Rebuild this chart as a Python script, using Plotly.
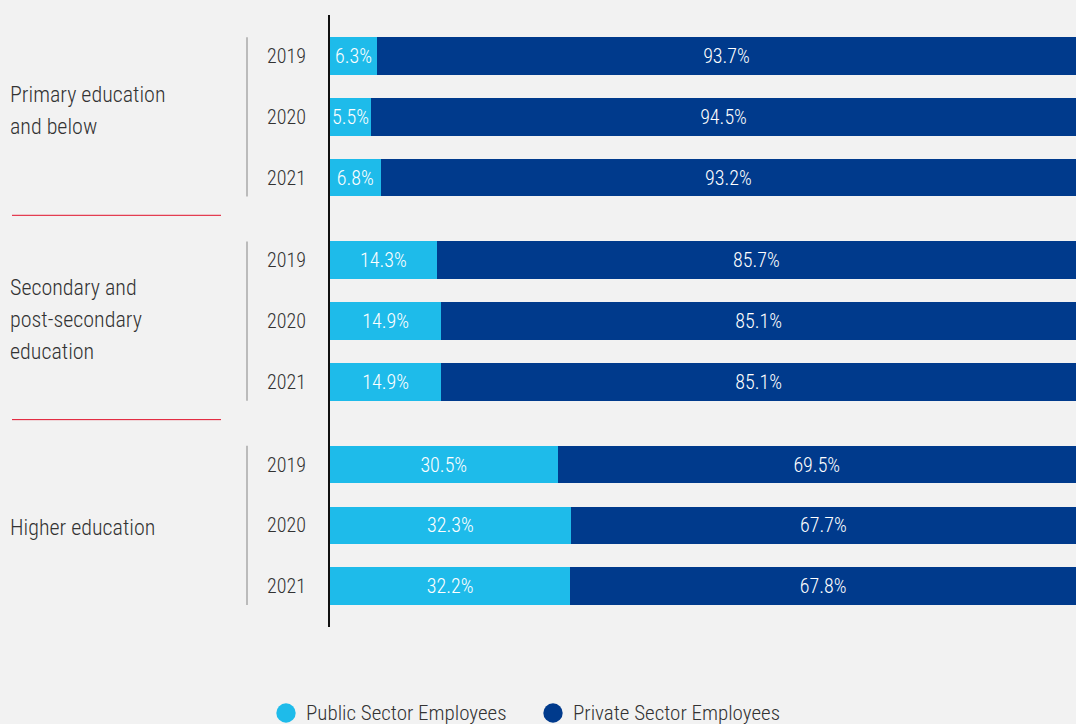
import plotly.graph_objects as go

groups = [["Primary education", "and below"], ["Secondary and", "post-secondary", "education"], ["Higher education"]]
years = ["2019", "2020", "2021"]
public = [6.3, 5.5, 6.8, 14.3, 14.9, 14.9, 30.5, 32.3, 32.2]
private = [93.7, 94.5, 93.2, 85.7, 85.1, 85.1, 69.5, 67.7, 67.8]
series_names = ["Public Sector Employees", "Private Sector Employees"]
colors = ["#1EBBEA", "#003A8C"]

FONT = "Roboto Condensed, Liberation Sans Narrow, Roboto, sans-serif"
WT = 300
GAP = 0.36
L, W = 330, 746  # plot left px, plot width px
T, H = 15, 612   # plot top px, plot height px
UNIT = 60.8      # px per y unit

pos = []
for g in range(len(groups)):
    for j in range(len(years)):
        pos.append(g * (len(years) + GAP) + j)

def px(x):
    return (x - L) / W

def py(y):
    return (T + H - y) / H

fig = go.Figure()
for name, vals, col in zip(series_names, [public, private], colors):
    fig.add_trace(go.Bar(
        y=pos, x=vals, orientation="h", marker=dict(color=col, line=dict(width=0)),
        width=0.62, text=[f"{v:.1f}%" for v in vals], textposition="inside",
        insidetextanchor="middle", textfont=dict(color="white", size=20, family=FONT, weight=WT),
        showlegend=False, hoverinfo="skip", name=name))

annotations = []
shapes = []
for i, p in enumerate(pos):
    annotations.append(dict(xref="paper", yref="y", x=px(308), y=p, text=years[i % 3],
                            showarrow=False, xanchor="right", yanchor="middle",
                            font=dict(size=20, color="#333333", family=FONT, weight=WT)))
offsets = [-0.1, -0.03, 0.03]
line_step = 32 / UNIT
for g, lines in enumerate(groups):
    first, last = pos[g * 3], pos[g * 3 + 2]
    center = (first + last) / 2 + offsets[g]
    n = len(lines)
    for k, ln in enumerate(lines):
        annotations.append(dict(xref="paper", yref="y", x=px(8), y=center + (k - (n - 1) / 2) * line_step,
                                text=ln, showarrow=False, xanchor="left", yanchor="middle", align="left",
                                font=dict(size=22, color="#333333", family=FONT, weight=WT)))
    shapes.append(dict(type="line", xref="paper", yref="y", x0=px(247), x1=px(247),
                       y0=first - 0.31, y1=last + 0.31, line=dict(color="#BBBBBB", width=2)))
    if g < len(groups) - 1:
        ymid = (last + pos[g * 3 + 3]) / 2 - 0.06
        shapes.append(dict(type="line", xref="paper", yref="y", x0=px(12), x1=px(221),
                           y0=ymid, y1=ymid, line=dict(color="#E0102A", width=1)))

# legend (circle markers + labels)
legend_x = [286, 553]
for name, col, lx in zip(series_names, colors, legend_x):
    shapes.append(dict(type="circle", xref="paper", yref="paper", xsizemode="pixel", ysizemode="pixel",
                       xanchor=px(lx), yanchor=py(713), x0=-9.7, x1=9.7, y0=-9.7, y1=9.7,
                       fillcolor=col, line=dict(width=0)))
    annotations.append(dict(xref="paper", yref="paper", x=px(lx + 18), y=py(712.5), text=name,
                            showarrow=False, xanchor="left", yanchor="middle",
                            font=dict(size=21, color="#333333", family=FONT, weight=WT)))

fig.update_layout(
    barmode="stack", width=1076, height=724, showlegend=False,
    margin=dict(l=L, r=0, t=T, b=724 - T - H, autoexpand=False),
    paper_bgcolor="#F2F2F2", plot_bgcolor="#F2F2F2",
    font=dict(family=FONT, color="#333333", weight=WT),
    xaxis=dict(range=[0, 100], showgrid=False, showticklabels=False, zeroline=False, fixedrange=True),
    yaxis=dict(range=[9.39, -0.674], showgrid=False, showticklabels=False, zeroline=False,
               showline=True, linecolor="#111111", linewidth=1.5, fixedrange=True),
    uniformtext=dict(minsize=20, mode="show"),
    annotations=annotations, shapes=shapes,
)
fig.write_html("out.html")
